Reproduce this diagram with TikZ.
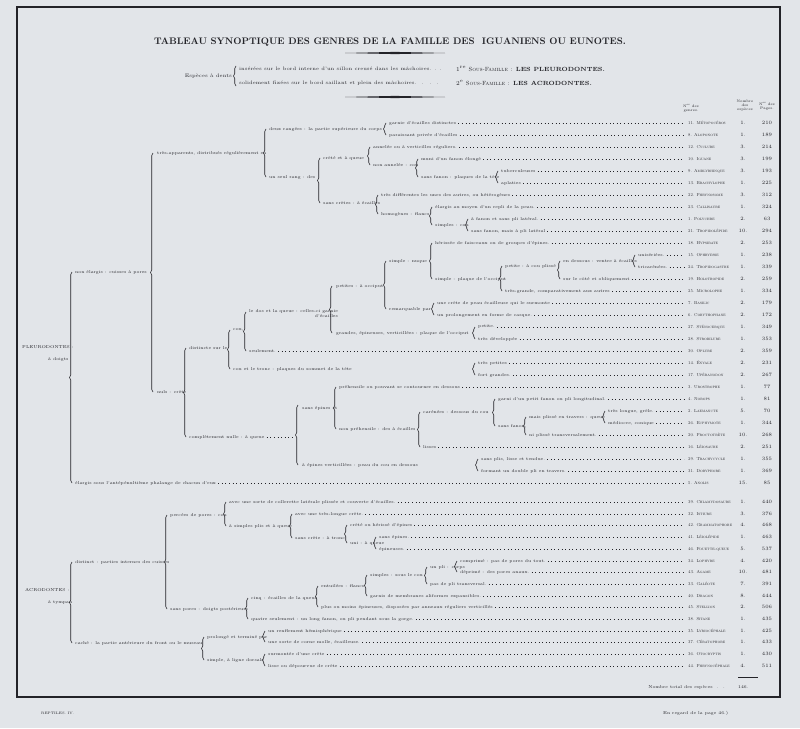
\documentclass[tikz,border=0pt]{standalone}
\usetikzlibrary{decorations.pathreplacing}
\definecolor{bg}{RGB}{226,229,233}
\definecolor{ink}{RGB}{35,35,40}
\tikzset{
  tx/.style={anchor=west,inner sep=0pt,font=\fontsize{4.25}{5}\selectfont,text=ink},
  lead/.style={ink,line width=0.5pt,dash pattern=on 0.6pt off 3pt},
  brc/.style={ink,line width=0.6pt,decorate,decoration={brace,amplitude=2.5pt}},
  nm/.style={anchor=west,inner sep=0pt,font=\fontsize{4.3}{5}\selectfont\scshape,text=ink},
  nb/.style={anchor=center,inner sep=0pt,font=\fontsize{5}{6}\selectfont,text=ink},
  hd/.style={anchor=center,inner sep=0pt,align=center,font=\fontsize{3.6}{4}\selectfont,text=ink},
  big/.style={anchor=west,inner sep=0pt,font=\fontsize{6}{7}\selectfont\bfseries,text=ink},
}
\newcommand\Tx[4]{\node[tx] (#1) at (#2,#3) {#4};}
\newcommand\Lf[4]{\node[tx] (#1) at (#2,#3) {#4}; \draw[lead] (#1.east) ++(2,0) -- (684,#3);}
\newcommand\Br[3]{\draw[brc] (#1,#3) -- (#1,#2);}
\newcommand\Rw[6]{\node[nm] (#1) at (688,#2) {#3 #4}; \node[nb] (#1c) at (743,#2) {#5}; \node[nb] (#1p) at (767,#2) {#6};}
\begin{document}
\begin{tikzpicture}[x=1pt,y=-1pt]
\fill[bg] (0,0) rectangle (800,728);
\useasboundingbox (0,0) rectangle (800,728);
% frame
\draw[ink,line width=2pt] (17,7) -- (780,7) -- (780,697) -- (17,697) -- cycle;
% title
\node[anchor=center,inner sep=0pt,font=\fontsize{9.5}{10}\selectfont\bfseries,text=ink] (title) at (390,42)
  {TABLEAU\ SYNOPTIQUE\ DES\ GENRES\ DE\ LA\ FAMILLE\ DES\ \ IGUANIENS\ OU\ EUNOTES.};
\fill[ink] (345,53) -- (395,51.9) -- (445,53) -- (395,54.1) -- cycle;
\fill[ink] (345,97) -- (395,95.9) -- (445,97) -- (395,98.1) -- cycle;
\node[tx,font=\fontsize{5}{6}\selectfont,anchor=east] (esp) at (232,76) {Espèces à dents};
\Br{236}{66}{86}
\Tx{ins}{239}{69}{\fontsize{4.9}{6}\selectfont insérées sur le bord interne d'un sillon creusé dans les mâchoires. . .}
\Tx{sol}{239}{83}{\fontsize{4.9}{6}\selectfont solidement fixées sur le bord saillant et plein des mâchoires. \ . \ . \ .}
\node[big] (sf1) at (456,69) {\mdseries 1\textsuperscript{re} \textsc{Sous-Famille} : \bfseries LES PLEURODONTES.};
\node[big] (sf2) at (456,83) {\mdseries 2\textsuperscript{e} \textsc{Sous-Famille} : \bfseries LES ACRODONTES.};
% headers
\node[hd] (h1) at (691,108) {N\textsuperscript{os} des\\genres.};
\node[hd] (h2) at (745,106) {Nombre\\des\\espèces};
\node[hd] (h3) at (767,106) {N\textsuperscript{os} des\\Pages.};
% right column pleurodontes
\Rw{r0}{123}{11.}{Métopocéros}{1.}{210}
\Rw{r1}{135}{8.}{Aloponote}{1.}{189}
\Rw{r2}{147}{12.}{Cyclure}{3.}{214}
\Rw{r3}{159}{10.}{Iguane}{3.}{199}
\Rw{r4}{171}{9.}{Amblyrhinque}{3.}{193}
\Rw{r5}{183}{13.}{Brachylophe}{1.}{225}
\Rw{r6}{195}{22.}{Phrynosome}{3.}{312}
\Rw{r7}{207}{23.}{Callisaure}{1.}{324}
\Rw{r8}{219}{1.}{Polychre}{2.}{63}
\Rw{r9}{231}{21.}{Tropidolépide}{10.}{294}
\Rw{r10}{243}{18.}{Hypsibate}{2.}{253}
\Rw{r11}{255}{15.}{Ophryesse}{1.}{238}
\Rw{r12}{267}{24.}{Tropidogastre}{1.}{339}
\Rw{r13}{279}{19.}{Holotropide}{2.}{259}
\Rw{r14}{291}{25.}{Microlophe}{1.}{334}
\Rw{r15}{303}{7.}{Basilic}{2.}{179}
\Rw{r16}{315}{6.}{Corythophane}{2.}{172}
\Rw{r17}{327}{27.}{Sténocerque}{1.}{349}
\Rw{r18}{339}{28.}{Strobilure}{1.}{353}
\Rw{r19}{351}{30.}{Oplure}{2.}{359}
\Rw{r20}{363}{14.}{Ényale}{2.}{231}
\Rw{r21}{375}{17.}{Upéranodon}{2.}{267}
\Rw{r22}{387}{3.}{Urostrophe}{1.}{77}
\Rw{r23}{399}{4.}{Norops}{1.}{81}
\Rw{r24}{411}{2.}{Laemancte}{5.}{70}
\Rw{r25}{423}{26.}{Ecphymote}{1.}{344}
\Rw{r26}{435}{20.}{Proctotrète}{10.}{268}
\Rw{r27}{447}{16.}{Léiosaure}{2.}{251}
\Rw{r28}{459}{29.}{Trachycycle}{1.}{355}
\Rw{r29}{471}{31.}{Doryphore}{1.}{369}
\Rw{r30}{483}{5.}{Anolis}{15.}{85}
% right column acrodontes
\Rw{s0}{502}{39.}{Chlamydosaure}{1.}{440}
\Rw{s1}{514}{32.}{Istiure}{3.}{376}
\Rw{s2}{525}{42.}{Grammatophore}{4.}{468}
\Rw{s3}{537}{41.}{Léiolépide}{1.}{463}
\Rw{s4}{549}{46.}{Fouette-queue}{5.}{537}
\Rw{s5}{561}{34.}{Lophyre}{4.}{420}
\Rw{s6}{572}{43.}{Agame}{10.}{481}
\Rw{s7}{584}{33.}{Galéote}{7.}{391}
\Rw{s8}{596}{40.}{Dragon}{8.}{444}
\Rw{s9}{607}{45.}{Stellion}{2.}{506}
\Rw{s10}{619}{38.}{Sitane}{1.}{435}
\Rw{s11}{631}{35.}{Lyriocéphale}{1.}{425}
\Rw{s12}{642}{37.}{Cératophore}{1.}{433}
\Rw{s13}{654}{36.}{Otocryptis}{1.}{430}
\Rw{s14}{666}{44.}{Phrynocéphale}{4.}{511}
\draw[ink,line width=0.8pt] (738,677) -- (758,677);
\node[tx,anchor=east] (tot) at (725,687) {Nombre total des espèces \ . \ .};
\node[tx] (totn) at (738,687) {146.};
\node[tx] (regard) at (663,713) {En regard de la page 46.)};
\node[tx,font=\fontsize{3.5}{4}\selectfont] (rep) at (41,713) {REPTILES. IV.};
% ===== PLEURODONTES tree
\node[tx] (P) at (22,347) {PLEURODONTES :};
\node[tx] (Pd) at (48,359) {à doigts};
\Br{72}{272}{483}
\Tx{ne}{75}{272}{non élargis : cuisses à pores}
\Lf{el}{75}{483}{élargis sous l'antépénultième phalange de chacun d'eux}
\Br{153}{153}{392}
\Tx{ta}{157}{153}{très-apparents, distribués régulièrement en}
\Br{266}{129}{177}
\Tx{dr}{269}{129}{deux rangées : la partie supérieure du corps}
\Br{386}{123}{135}
\Lf{l0}{389}{123}{garnie d'écailles distinctes}
\Lf{l1}{389}{135}{paraissant privée d'écailles}
\Tx{sr}{269}{177}{un seul rang : des}
\Br{320}{158}{203}
\Tx{cq}{323}{158}{crêté et à queue}
\Br{370}{147}{165}
\Lf{l2}{373}{147}{annelée ou à verticilles réguliers.}
\Tx{na}{373}{165}{non annelée : cou}
\Br{418}{159}{177}
\Lf{l3}{421}{159}{muni d'un fanon élongé}
\Tx{sf}{421}{177}{sans fanon : plaques de la tête}
\Br{498}{171}{183}
\Lf{l4}{501}{171}{tuberculeuses}
\Lf{l5}{501}{183}{aplaties}
\Tx{sc}{323}{203}{sans crêtes : à écailles}
\Br{378}{195}{214}
\Lf{l6}{381}{195}{très différentes les unes des autres, ou hétérogènes}
\Tx{ho}{381}{214}{homogènes : flancs}
\Br{432}{207}{225}
\Lf{l7}{435}{207}{élargis au moyen d'un repli de la peau.}
\Tx{si}{435}{225}{simples : cou}
\Br{468}{219}{231}
\Lf{l8}{471}{219}{à fanon et sans pli latéral.}
\Lf{l9}{471}{231}{sans fanon, mais à pli latéral}
\Tx{nu}{157}{392}{nuls : crête}
\Br{186}{348}{437}
\Tx{di}{189}{348}{distincte sur le}
\Br{230}{330}{369}
\Tx{co}{233}{330}{cou,}
\Br{246}{312}{351}
\node[tx,align=right] (dq) at (249,314) {le dos et la queue : celles-ci garnie\\ d'écailles};
\Br{332}{286}{333}
\Tx{pe}{336}{286}{petites : à occiput}
\Br{386}{261}{309}
\Tx{nq}{389}{261}{simple : nuque}
\Br{432}{243}{279}
\Lf{l10}{435}{243}{hérissée de faisceaux ou de groupes d'épines.}
\Tx{po}{435}{279}{simple : plaque de l'occiput}
\Br{502}{266}{291}
\Tx{pc}{505}{266}{petite : à cou plissé}
\Br{560}{261}{279}
\Tx{ed}{563}{261}{en dessous : ventre à écailles}
\Br{635}{255}{267}
\Lf{l11}{638}{255}{unisériées.}
\Lf{l12}{638}{267}{tricarénées.}
\Lf{l13}{563}{279}{sur le côté et obliquement}
\Lf{l14}{505}{291}{très-grande, comparativement aux autres}
\Tx{rp}{389}{309}{remarquable par}
\Br{434}{303}{315}
\Lf{l15}{437}{303}{une crête de peau écailleuse qui le surmonte}
\Lf{l16}{437}{315}{un prolongement en forme de casque.}
\Tx{ge}{336}{333}{grandes, épineuses, verticillées : plaque de l'occiput}
\Br{475}{327}{339}
\Lf{l17}{478}{327}{petite.}
\Lf{l18}{478}{339}{très développée}
\Lf{l19}{249}{351}{seulement.}
\Tx{ct}{233}{369}{cou et le tronc : plaques du sommet de la tête}
\Br{475}{363}{375}
\Lf{l20}{478}{363}{très petites}
\Lf{l21}{478}{375}{fort grandes.}
\Tx{cn}{189}{437}{complètement nulle : à queue}
\draw[lead] (cn.east) ++(2,0) -- (294,437);
\Br{298}{405}{465}
\Tx{se}{302}{408}{sans épines et}
\Br{336}{387}{429}
\Lf{l22}{339}{387}{préhensile ou pouvant se contourner en dessous}
\Tx{np}{339}{429}{non préhensile : des à écailles}
\Br{420}{412}{447}
\Tx{ca}{423}{412}{carénées : dessous du cou}
\Br{495}{399}{426}
\Lf{l23}{498}{399}{garni d'un petit fanon ou pli longitudinal.}
\Tx{sn}{498}{426}{sans fanon,}
\Br{526}{417}{435}
\Tx{mp}{529}{417}{mais plissé en travers : queue}
\Br{605}{411}{423}
\Lf{l24}{608}{411}{très longue, grêle.}
\Lf{l25}{608}{423}{médiocre, conique}
\Lf{l26}{529}{435}{ni plissé transversalement.}
\Lf{l27}{423}{447}{lisses}
\Tx{ev}{302}{465}{à épines verticillées : peau du cou en dessous}
\Br{478}{459}{471}
\Lf{l28}{481}{459}{sans plis, lisse et tendue.}
\Lf{l29}{481}{471}{formant un double pli en travers.}
% ===== ACRODONTES tree
\node[tx] (A) at (25,590) {ACRODONTES :};
\node[tx] (At) at (48,602) {à tympan};
\Br{72}{562}{643}
\Tx{dc}{75}{562}{distinct : parties internes des cuisses}
\Br{167}{515}{609}
\Tx{pp}{170}{515}{percées de pores : cou}
\Br{226}{502}{526}
\Lf{m0}{229}{502}{avec une sorte de collerette latérale plissée et couverte d'écailles.}
\Tx{sp}{229}{526}{à simples plis et à queue}
\Br{292}{514}{538}
\Lf{m1}{295}{514}{avec une très-longue crête.}
\Tx{st}{295}{538}{sans crête : à tronc}
\Br{347}{525}{543}
\Lf{m2}{350}{525}{crêté ou hérissé d'épines}
\Tx{uq}{350}{543}{uni : à queue}
\Br{376}{537}{549}
\Lf{m3}{379}{537}{sans épines.}
\Lf{m4}{379}{549}{épineuses.}
\Tx{sa}{170}{609}{sans pores : doigts postérieurs}
\Br{248}{598}{619}
\Tx{ci}{251}{598}{cinq : écailles de la queue}
\Br{318}{586}{607}
\Tx{en}{321}{586}{entuilées : flancs}
\Br{367}{575}{596}
\Tx{ss}{370}{575}{simples : sous le cou}
\Br{427}{567}{584}
\Tx{up}{430}{567}{un pli : corps}
\Br{457}{561}{572}
\Lf{m5}{460}{561}{comprimé : pas de pores du tout.}
\Lf{m6}{460}{572}{déprimé : des pores anaux.}
\Lf{m7}{430}{584}{pas de pli transversal.}
\Lf{m8}{370}{596}{garnis de membranes aliformes expansibles.}
\Lf{m9}{321}{607}{plus ou moins épineuses, disposées par anneaux réguliers verticillés}
\Lf{m10}{251}{619}{quatre seulement : un long fanon, ou pli pendant sous la gorge.}
\Tx{cc}{75}{643}{caché : la partie antérieure du front ou le museau}
\Br{204}{637}{660}
\Tx{pt}{207}{637}{prolongé et terminé par}
\Br{265}{631}{642}
\Lf{m11}{268}{631}{un renflement hémisphérique}
\Lf{m12}{268}{642}{une sorte de corne molle, écailleuse.}
\Tx{sd}{207}{660}{simple, à ligne dorsale}
\Br{265}{654}{666}
\Lf{m13}{268}{654}{surmontée d'une crête}
\Lf{m14}{268}{666}{lisse ou dépourvue de crête}
\end{tikzpicture}
\end{document}
